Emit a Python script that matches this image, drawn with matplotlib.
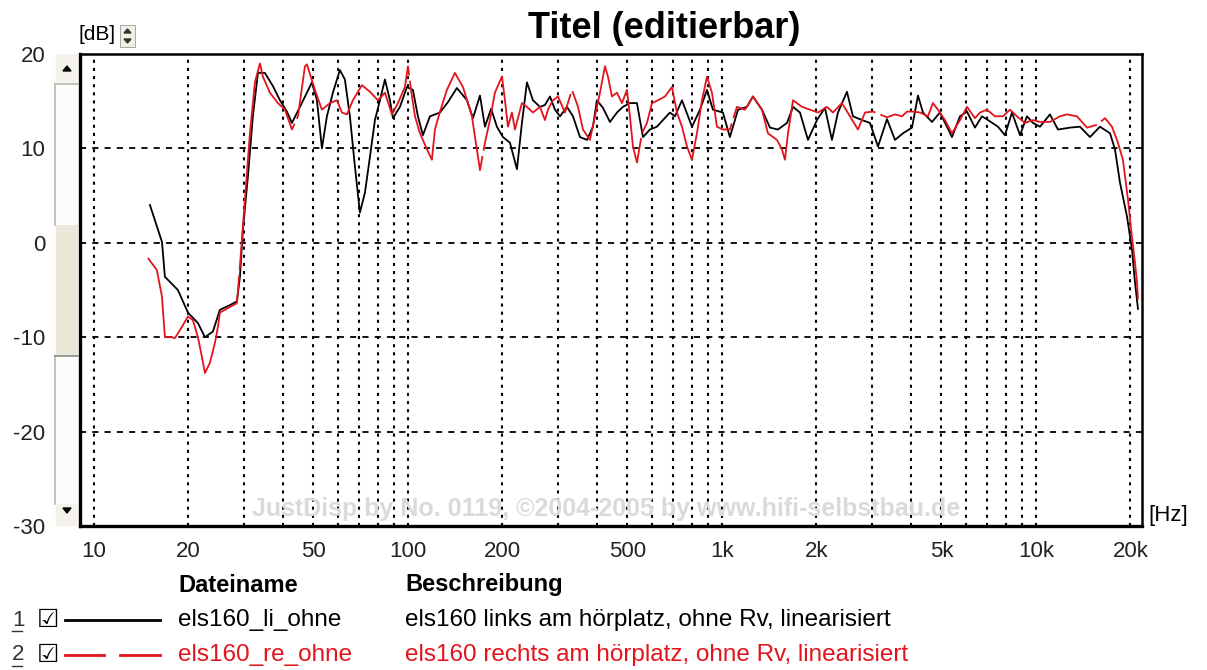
import matplotlib
matplotlib.use("Agg")
import matplotlib.pyplot as plt
from matplotlib.patches import Rectangle, Polygon
from matplotlib.lines import Line2D
from matplotlib.ticker import FixedLocator, NullFormatter

plt.rcParams["font.family"] = ["Liberation Sans", "DejaVu Sans"]

W, H = 1207, 670
RED = "#e3141c"

# els160 links (black), frequency in Hz / level in dB
freq_li = [15.08, 16.47, 16.83, 18.51, 19.93, 21.44, 22.57, 23.93, 25.19, 27.11,
           28.54, 29.17, 29.82, 30.93, 32.08, 33.29, 35.03, 37.16, 39.12, 41.18,
           42.72, 45.31, 49.47, 51.31, 53.22, 55.21, 57.69, 60.71, 62.99, 65.34,
           67.79, 70.31, 72.95, 75.68, 78.51, 81.44, 84.49, 87.64, 89.60, 94.30,
           99.27, 103.7, 107.6, 111.6, 117.5, 126.5, 134.1, 143.2, 154.2, 161.1,
           169.6, 175.9, 184.0, 192.0, 200.7, 211.3, 222.4, 230.7, 239.3, 250.1,
           263.3, 273.1, 283.4, 294.0, 305.0, 320.9, 335.4, 353.1, 371.7, 388.3,
           399.9, 417.8, 439.9, 463.1, 483.8, 509.3, 536.2, 560.4, 589.9, 620.9,
           648.8, 683.0, 708.5, 745.9, 802.7, 851.2, 896.0, 936.1, 1007, 1060,
           1125, 1201, 1255, 1341, 1422, 1508, 1611, 1684, 1772, 1879,
           2007, 2128, 2240, 2341, 2501, 2613, 2792, 2960, 3140, 3354,
           3556, 3771, 4029, 4210, 4367, 4665, 4946, 5207, 5401, 5728,
           6030, 6393, 6730, 7034, 7568, 7965, 8387, 8894, 9361, 9782,
           10300, 11080, 11750, 12830, 13810, 14860, 15990, 17210, 17850, 18510,
           19490, 20220, 20670, 21130]
db_li = [4.0, 0.1, -3.6, -5.0, -7.4, -8.5, -10.0, -9.4, -7.1, -6.6,
         -6.2, -3.6, 1.4, 7.0, 13.4, 18.0, 18.0, 16.6, 15.1, 13.9,
         12.7, 14.4, 17.0, 15.1, 10.0, 13.4, 15.9, 18.3, 17.3, 13.4,
         8.1, 3.2, 5.3, 9.1, 13.0, 15.1, 17.3, 15.1, 13.2, 14.4,
         16.5, 16.2, 13.4, 11.4, 13.4, 13.8, 14.9, 16.4, 15.1, 13.2,
         15.6, 12.3, 14.2, 12.3, 11.2, 10.6, 7.8, 12.7, 17.0, 15.1,
         14.4, 14.6, 15.5, 14.1, 13.4, 14.4, 13.4, 11.2, 10.9, 12.3,
         15.1, 14.3, 12.8, 13.8, 14.4, 14.8, 14.8, 11.2, 12.0, 12.3,
         13.0, 13.8, 13.4, 15.1, 12.3, 14.1, 16.2, 14.1, 13.8, 11.2,
         14.1, 14.4, 15.5, 14.1, 12.2, 12.0, 12.7, 14.4, 13.8, 10.9,
         13.0, 14.3, 10.9, 13.8, 16.0, 13.4, 13.0, 12.7, 10.2, 13.1,
         10.9, 11.6, 12.2, 15.6, 13.8, 12.8, 13.8, 12.3, 11.2, 13.4,
         13.9, 12.2, 13.4, 13.0, 12.3, 11.4, 13.8, 11.4, 13.4, 12.7,
         12.3, 13.6, 12.0, 12.2, 12.3, 11.2, 12.3, 11.6, 9.9, 6.4,
         2.8, -0.7, -4.2, -7.0]

# els160 rechts (red)
freq_re = [14.86, 15.87, 16.47, 16.83, 17.72, 18.11, 19.07, 19.93, 20.67, 21.44,
           22.08, 22.57, 23.41, 24.29, 24.83, 25.19, 27.11, 28.54, 29.17, 30.26,
           31.39, 32.56, 33.78, 34.52, 36.34, 38.55, 40.58, 42.72, 44.65, 46.99,
           47.69, 50.56, 53.22, 56.44, 59.42, 61.62, 63.92, 66.79, 71.36, 75.68,
           80.26, 84.49, 88.94, 92.94, 97.81, 100.0, 103.0, 105.3, 109.2, 115.0,
           119.2, 121.9, 126.5, 133.1, 141.1, 149.7, 159.9, 163.5, 169.6, 175.9,
           182.4, 189.2, 199.3, 203.7, 208.2, 214.4, 219.2, 230.7, 239.3, 250.1,
           263.3, 273.1, 279.2, 289.6, 300.5, 316.2, 333.0, 348.0, 360.9, 379.8,
           394.0, 408.8, 424.1, 433.5, 446.4, 463.1, 480.3, 498.3, 509.3, 520.7,
           536.2, 556.2, 577.0, 598.7, 625.5, 658.4, 693.1, 719.0, 745.9, 773.8,
           802.7, 832.6, 863.8, 896.0, 929.3, 963.9, 1007, 1060, 1116, 1184,
           1255, 1341, 1401, 1497, 1553, 1587, 1623, 1684, 1799, 1907,
           2022, 2160, 2257, 2411, 2556, 2711, 2854, 3026, 3186, 3354,
           3556, 3744, 3884, 4058, 4272, 4529, 4699, 4874, 5131, 5401,
           5728, 6030, 6393, 6632, 6982, 7402, 7848, 8264, 8696, 9226,
           9782, 10300, 11080, 11920, 12550, 13510, 14540, 15650, 16590, 17460,
           18240, 18920, 19630, 20220, 20670, 20980, 21130]
db_re = [-1.6, -2.9, -5.7, -10.0, -10.0, -10.1, -8.9, -7.8, -8.2, -10.0,
         -12.1, -13.8, -12.7, -10.6, -8.9, -7.4, -6.8, -6.4, -2.5, 4.6,
         11.6, 17.0, 19.0, 17.6, 15.9, 14.8, 14.1, 12.0, 13.4, 18.7,
         18.9, 16.2, 14.1, 14.8, 15.1, 13.8, 13.6, 15.1, 16.7, 16.0,
         15.1, 15.9, 13.6, 14.8, 16.5, 18.7, 15.5, 13.4, 11.6, 9.9,
         8.8, 12.0, 13.9, 16.2, 18.0, 16.5, 13.4, 11.2, 7.7, 10.6,
         13.0, 15.9, 17.6, 15.1, 12.3, 13.8, 12.0, 14.8, 14.4, 13.8,
         14.4, 13.0, 14.1, 15.1, 15.5, 13.8, 16.2, 14.4, 12.0, 10.9,
         13.4, 15.9, 18.7, 17.6, 15.5, 15.9, 14.8, 16.2, 13.4, 10.2,
         8.5, 11.6, 12.7, 14.8, 15.1, 15.5, 16.5, 13.8, 12.3, 10.2,
         8.8, 11.6, 15.1, 17.6, 15.9, 12.3, 12.0, 12.0, 14.4, 14.1,
         15.5, 14.1, 11.6, 10.9, 9.9, 8.8, 11.6, 15.1, 14.4, 14.1,
         13.8, 14.4, 13.8, 14.8, 13.4, 12.0, 13.8, 13.9, 13.6, 13.3,
         13.6, 13.4, 13.9, 13.9, 13.8, 13.4, 14.8, 14.1, 13.0, 11.6,
         13.0, 14.4, 13.2, 13.8, 14.1, 13.4, 13.4, 14.1, 13.4, 12.7,
         13.0, 12.8, 12.8, 13.4, 13.6, 13.4, 12.2, 12.5, 13.2, 12.3,
         10.6, 8.8, 4.6, 0.6, -2.1, -4.2, -6.0]

tick_freqs = [10, 20, 50, 100, 200, 500, 1000, 2000, 5000, 10000, 20000]
tick_labels = ["10", "20", "50", "100", "200", "500", "1k", "2k", "5k", "10k", "20k"]
db_ticks = [-30, -20, -10, 0, 10, 20]
grid_db = [-20, -10, 0, 10]

files = ["els160_li_ohne", "els160_re_ohne"]
descriptions = ["els160 links am hörplatz, ohne Rv, linearisiert",
                "els160 rechts am hörplatz, ohne Rv, linearisiert"]
colors = ["black", RED]


def fx(x):
    return x / W


def fy(y):
    return 1 - y / H


fig = plt.figure(figsize=(W / 100, H / 100), dpi=100)
ax = fig.add_axes([fx(80), fy(526), (1142 - 80) / W, (526 - 54) / H])

ax.set_xscale("log")
ax.set_xlim(9.03, 21760)
ax.set_ylim(-30, 20)

grid_freqs = [m * 10 ** d for d in range(1, 5) for m in range(1, 10) if m * 10 ** d <= 20000]
for f in grid_freqs:
    ax.axvline(f, color="black", lw=1.5, dashes=(1.5, 2.4), zorder=1)
for v in grid_db:
    ax.axhline(v, color="black", lw=1.3, dashes=(3.4, 3.4), zorder=1)

ax.plot(freq_li, db_li, color="black", lw=1.3, zorder=3)
ax.plot(freq_re, db_re, color=RED, lw=1.3, dashes=(160, 3), zorder=4)

ax.xaxis.set_major_locator(FixedLocator(tick_freqs))
ax.set_xticklabels(tick_labels)
ax.xaxis.set_minor_formatter(NullFormatter())
ax.xaxis.set_minor_locator(FixedLocator([]))
ax.set_yticks(db_ticks)
ax.set_yticklabels([str(v) for v in db_ticks])
ax.tick_params(axis="x", length=0, pad=11, labelsize=16, labelcolor="#222222")
ax.tick_params(axis="y", length=0, pad=25, labelsize=16, labelcolor="#222222")

for side in ("left", "bottom"):
    ax.spines[side].set_linewidth(2.4)
for side in ("top", "right"):
    ax.spines[side].set_linewidth(1.8)

ax.text(0.495, 0.035, "JustDisp by No. 0119, ©2004-2005 by www.hifi-selbstbau.de",
        transform=ax.transAxes, ha="center", va="center", fontsize=18,
        fontweight="bold", color="#dadada", zorder=2)

fig.text(fx(664), fy(28), "Titel (editierbar)", ha="center", va="center",
         fontsize=26, fontweight="bold")
fig.text(fx(78), fy(35), "[dB]", ha="left", va="center", fontsize=15)
fig.text(fx(1148), fy(516), "[Hz]", ha="left", va="center", fontsize=16)

# small spinner next to [dB]
fig.add_artist(Rectangle((fx(120), fy(47)), 15 / W, 22 / H, transform=fig.transFigure,
                         facecolor="#f2f0e6", edgecolor="#9a9a9a", lw=0.6))
fig.add_artist(Polygon([(fx(124), fy(33)), (fx(131), fy(33)), (fx(127.5), fy(29))],
                       closed=True, transform=fig.transFigure, color="#333333"))
fig.add_artist(Polygon([(fx(124), fy(39)), (fx(131), fy(39)), (fx(127.5), fy(43))],
                       closed=True, transform=fig.transFigure, color="#333333"))

# vertical scrollbar left of the plot
beige = "#ebe8da"
fig.add_artist(Rectangle((fx(54), fy(526)), 24 / W, 472 / H, transform=fig.transFigure,
                         facecolor="#fcfcfa", edgecolor="none"))
fig.add_artist(Rectangle((fx(56), fy(84)), 22 / W, 30 / H, transform=fig.transFigure,
                         facecolor="#f4f2ea", edgecolor="none"))
fig.add_artist(Rectangle((fx(56), fy(356)), 22 / W, 131 / H, transform=fig.transFigure,
                         facecolor=beige, edgecolor="none"))
fig.add_artist(Rectangle((fx(56), fy(526)), 22 / W, 22 / H, transform=fig.transFigure,
                         facecolor="#f4f2ea", edgecolor="none"))
for y0, y1 in ((84, 225), (356, 504)):
    fig.add_artist(Line2D([fx(55), fx(55)], [fy(y0), fy(y1)], transform=fig.transFigure,
                          color="#b8b8b0", lw=1.2))
fig.add_artist(Line2D([fx(55), fx(78)], [fy(84), fy(84)], transform=fig.transFigure,
                      color="#b8b8b0", lw=1.2))
fig.add_artist(Line2D([fx(55), fx(78)], [fy(356), fy(356)], transform=fig.transFigure,
                      color="#8a8a84", lw=1.2))
fig.add_artist(Polygon([(fx(63), fy(71)), (fx(71), fy(71)), (fx(67), fy(66))],
                       closed=True, transform=fig.transFigure, color="black"))
fig.add_artist(Polygon([(fx(63), fy(508)), (fx(71), fy(508)), (fx(67), fy(513))],
                       closed=True, transform=fig.transFigure, color="black"))

# legend table
fig.text(fx(178), fy(585), "Dateiname", ha="left", va="center", fontsize=17,
         fontweight="bold")
fig.text(fx(405), fy(585), "Beschreibung", ha="left", va="center", fontsize=17,
         fontweight="bold")
row_y = [620, 655]
for i, (name, desc, col) in enumerate(zip(files, descriptions, colors)):
    y = row_y[i]
    fig.text(fx(12), fy(y), str(i + 1), ha="left", va="center", fontsize=16,
             color="#333333")
    fig.add_artist(Line2D([fx(12), fx(22)], [fy(y + 11), fy(y + 11)],
                          transform=fig.transFigure, color="#333333", lw=1))
    fig.text(fx(37), fy(y), "☑", ha="left", va="center", fontsize=18,
             family="DejaVu Sans", color="black", fontweight="bold")
    if i == 0:
        fig.add_artist(Line2D([fx(65), fx(160)], [fy(y), fy(y)],
                              transform=fig.transFigure, color=col, lw=2))
    else:
        for x0, x1 in ((65, 104), (120, 160)):
            fig.add_artist(Line2D([fx(x0), fx(x1)], [fy(y), fy(y)],
                                  transform=fig.transFigure, color=col, lw=2))
    fig.text(fx(178), fy(y), name, ha="left", va="center", fontsize=17.5, color=col)
    fig.text(fx(405), fy(y), desc, ha="left", va="center", fontsize=17.5, color=col)

fig.savefig("out.png", dpi=100)
